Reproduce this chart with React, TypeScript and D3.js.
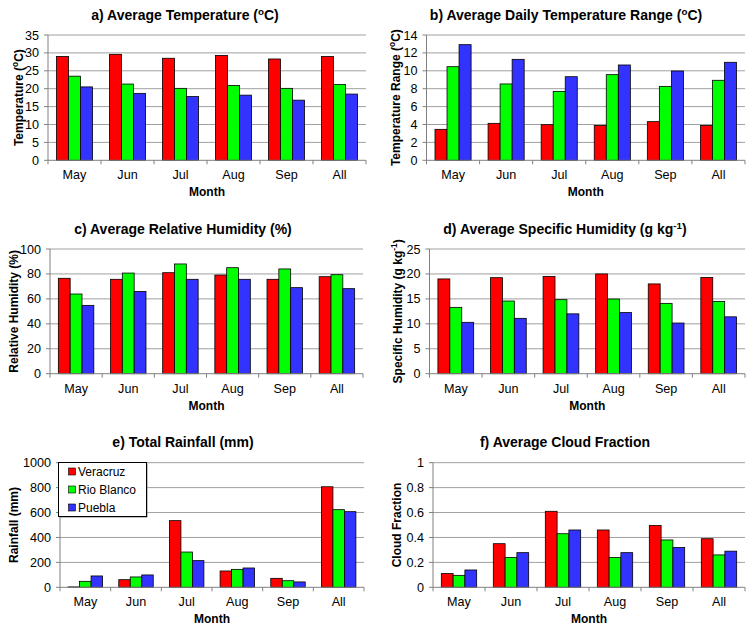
import React from "react";
import * as d3 from "d3";

const months = ["May", "Jun", "Jul", "Aug", "Sep", "All"];
const stations = ["Veracruz", "Rio Blanco", "Puebla"];
const stationColors = ["#FF0000", "#00FF00", "#3333FF"];

// values per station: [Veracruz, Rio Blanco, Puebla]
const temperature = [
  [29.0, 29.6, 28.5, 29.3, 28.3, 29.0],
  [23.5, 21.3, 20.1, 20.9, 20.1, 21.2],
  [20.5, 18.7, 17.8, 18.2, 16.8, 18.5],
];
const tempRange = [
  [3.46, 4.13, 3.98, 3.9, 4.32, 3.9],
  [10.46, 8.53, 7.7, 9.57, 8.26, 8.94],
  [12.92, 11.28, 9.34, 10.65, 9.98, 10.95],
];
const relHumidity = [
  [76.5, 75.7, 81.0, 79.1, 75.7, 77.8],
  [63.9, 80.7, 88.0, 85.0, 84.0, 79.4],
  [54.8, 66.0, 75.7, 75.7, 69.0, 68.2],
];
const specHumidity = [
  [19.0, 19.25, 19.5, 20.0, 18.0, 19.3],
  [13.3, 14.57, 14.84, 14.97, 14.1, 14.5],
  [10.3, 11.1, 12.0, 12.25, 10.16, 11.4],
];
const rainfall = [
  [3, 61, 535, 131, 72, 807],
  [48, 83, 283, 144, 53, 623],
  [91, 99, 214, 155, 43, 607],
];
const cloudFraction = [
  [0.11, 0.35, 0.61, 0.46, 0.497, 0.39],
  [0.096, 0.24, 0.43, 0.24, 0.38, 0.26],
  [0.139, 0.278, 0.46, 0.278, 0.32, 0.29],
];

const tempTicks = [0, 5, 10, 15, 20, 25, 30, 35];
const rangeTicks = [0, 2, 4, 6, 8, 10, 12, 14];
const rhTicks = [0, 20, 40, 60, 80, 100];
const shTicks = [0, 5, 10, 15, 20, 25];
const rainTicks = [0, 200, 400, 600, 800, 1000];
const cloudTicks = [0, 0.2, 0.4, 0.6, 0.8, 1];

const FONT = "Arial, 'Liberation Sans', Helvetica, sans-serif";

type PanelDef = {
  data: number[][];
  ticks: number[];
  title: React.ReactNode;
  yTitle: React.ReactNode;
  left: number;
  right: number;
  top: number;
  bottom: number;
  titleX: number;
  yTitleX: number;
  legend?: boolean;
};

// text with a superscript part, then the remaining text back on the baseline
const supText = (before: string, s: string, after: string) => (
  <>
    <tspan>{before}</tspan>
    <tspan dy={-5} fontSize="70%">{s}</tspan>
    <tspan dy={5}>{after}</tspan>
  </>
);

const panels: PanelDef[] = [
  {
    data: temperature, ticks: tempTicks,
    title: supText("a) Average Temperature (", "o", "C)"),
    yTitle: supText("Temperature (", "o", "C)"),
    left: 48, right: 366, top: 35, bottom: 160.3, titleX: 185, yTitleX: 23,
  },
  {
    data: tempRange, ticks: rangeTicks,
    title: supText("b) Average Daily Temperature Range (", "o", "C)"),
    yTitle: supText("Temperature Range (", "o", "C)"),
    left: 426.5, right: 745, top: 35, bottom: 160.3, titleX: 566, yTitleX: 400,
  },
  {
    data: relHumidity, ticks: rhTicks,
    title: <>c) Average Relative Humidity (%)</>,
    yTitle: <>Relative Humidity (%)</>,
    left: 50, right: 363, top: 249, bottom: 373.7, titleX: 183, yTitleX: 18,
  },
  {
    data: specHumidity, ticks: shTicks,
    title: supText("d) Average Specific Humidity (g kg", "-1", ")"),
    yTitle: supText("Specific Humidity (g kg", "-1", ")"),
    left: 429.5, right: 745, top: 249, bottom: 373.7, titleX: 565, yTitleX: 402,
  },
  {
    data: rainfall, ticks: rainTicks,
    title: <>e) Total Rainfall (mm)</>,
    yTitle: <>Rainfall (mm)</>,
    left: 60, right: 364, top: 462.7, bottom: 587.3, titleX: 183, yTitleX: 18,
    legend: true,
  },
  {
    data: cloudFraction, ticks: cloudTicks,
    title: <>f) Average Cloud Fraction</>,
    yTitle: <>Cloud Fraction</>,
    left: 433, right: 745, top: 462.7, bottom: 587.3, titleX: 565, yTitleX: 401,
  },
];

function Panel({ p }: { p: PanelDef }) {
  const x = d3.scaleBand<string>().domain(months).range([p.left, p.right]).padding(0);
  const bw = x.bandwidth();
  const inner = d3
    .scaleBand<string>()
    .domain(stations)
    .range([bw * 0.16, bw * 0.84])
    .padding(0);
  const y = d3
    .scaleLinear()
    .domain([0, p.ticks[p.ticks.length - 1]])
    .range([p.bottom, p.top]);
  const boundaries = months.map((m) => x(m)!).concat([p.right]);
  const midY = (p.top + p.bottom) / 2;

  return (
    <g fontFamily={FONT}>
      <text x={p.titleX} y={p.top - 15.5} textAnchor="middle" fontWeight="bold" fontSize={14}>
        {p.title}
      </text>
      {p.ticks.map((t) => (
        <g key={t}>
          {t !== 0 && (
            <line x1={p.left} x2={p.right} y1={y(t)} y2={y(t)} stroke="#A0A0A0" strokeWidth={1} />
          )}
          <line x1={p.left - 4} x2={p.left} y1={y(t)} y2={y(t)} stroke="#808080" strokeWidth={1} />
          <text x={p.left - 9} y={y(t)} dy="0.36em" textAnchor="end" fontSize={12.6}>
            {String(t)}
          </text>
        </g>
      ))}
      <line x1={p.left} x2={p.left} y1={p.top} y2={p.bottom} stroke="#808080" strokeWidth={1} />
      {p.data.map((series, si) =>
        series.map((v, mi) => (
          <rect
            key={`${si}-${mi}`}
            x={x(months[mi])! + inner(stations[si])!}
            y={y(v)}
            width={inner.bandwidth()}
            height={Math.max(0, y(0) - y(v))}
            fill={stationColors[si]}
            stroke="#000"
            strokeWidth={0.8}
          />
        ))
      )}
      <line x1={p.left} x2={p.right} y1={p.bottom} y2={p.bottom} stroke="#808080" strokeWidth={1} />
      {boundaries.map((b, i) => (
        <line key={i} x1={b} x2={b} y1={p.bottom} y2={p.bottom + 4} stroke="#808080" strokeWidth={1} />
      ))}
      {months.map((m) => (
        <text key={m} x={x(m)! + bw / 2} y={p.bottom + 19} textAnchor="middle" fontSize={12.6}>
          {m}
        </text>
      ))}
      <text x={(p.left + p.right) / 2} y={p.bottom + 36} textAnchor="middle" fontWeight="bold" fontSize={12}>
        Month
      </text>
      <text
        transform={`translate(${p.yTitleX},${midY}) rotate(-90)`}
        textAnchor="middle"
        fontWeight="bold"
        fontSize={12}
      >
        {p.yTitle}
      </text>
      {p.legend && (
        <g>
          <rect x={59.5} y={463.5} width={88} height={54} fill="#808080" />
          <rect x={58.5} y={462.5} width={88} height={54} fill="#fff" stroke="#000" strokeWidth={1} />
          {stations.map((s, i) => (
            <g key={s}>
              <rect x={68.5} y={468 + i * 18} width={7} height={7} fill={stationColors[i]} stroke="#000" strokeWidth={0.6} />
              <text x={78} y={471.5 + i * 18} dy="0.36em" fontSize={12}>
                {s}
              </text>
            </g>
          ))}
        </g>
      )}
    </g>
  );
}

export default function App() {
  return (
    <svg
      width={754}
      height={632}
      style={{ position: "absolute", left: 0, top: 0, background: "#fff" }}
    >
      <rect width={754} height={632} fill="#fff" />
      {panels.map((p, i) => (
        <Panel key={i} p={p} />
      ))}
    </svg>
  );
}
